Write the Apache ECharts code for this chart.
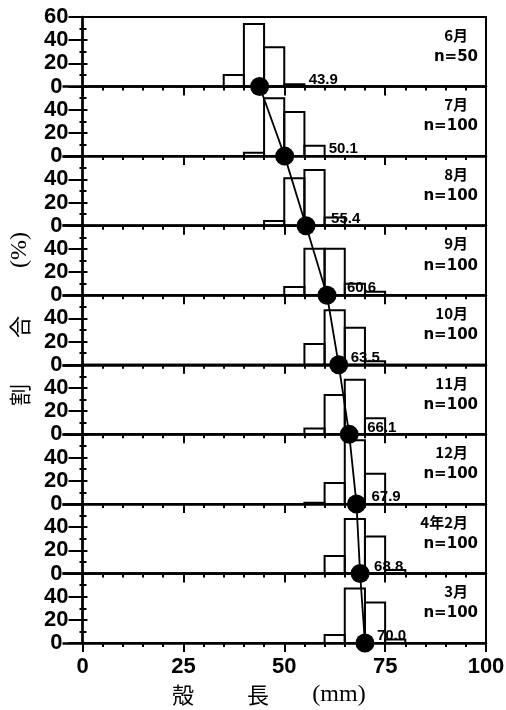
<!DOCTYPE html>
<html><head><meta charset="utf-8">
<script src="https://cdn.jsdelivr.net/npm/echarts@6/dist/echarts.min.js"></script>
<style>html,body{margin:0;padding:0;background:#fff}#c{width:506px;height:710px}</style>
</head><body><div id="c"></div>
<script>
// ---- data ----
const months = ['6月','7月','8月','9月','10月','11月','12月','4年2月','3月'];
const sampleN = [50,100,100,100,100,100,100,100,100];
const means = [43.9,50.1,55.4,60.6,63.5,66.1,67.9,68.8,70.0];
const binStarts = [35,40,45,50,55,60,65,70,75];
const binWidth = 5;
const pctJun = [10,54,34,2,0,0,0,0,0];
const pctJul = [0,3,50,38,9,0,0,0,0];
const pctAug = [0,0,4,41,48,7,0,0,0];
const pctSep = [0,0,0,7,40,40,10,3,0];
const pctOct = [0,0,0,0,18,47,32,3,0];
const pctNov = [0,0,0,0,5,34,47,14,0];
const pctDec = [0,0,0,0,1,18,55,26,0];
const pctFeb = [0,0,0,0,0,15,47,32,3];
const pctMar = [0,0,0,0,0,7,47,35,3];
const xTicks = [0,25,50,75,100];
const yTicks = [0,20,40,60];

const panels = [pctJun,pctJul,pctAug,pctSep,pctOct,pctNov,pctDec,pctFeb,pctMar];

// ---- layout ----
const L = 82.5, W = 403.5, T0 = 17, H = 69.56;
const labelDx = [49,44,25,20,12,18,15,14,12];
const numFont = "'Liberation Sans',sans-serif";
const yMin = yTicks[0], yMax = yTicks[yTicks.length - 1];

const grid = [], xAxis = [], yAxis = [], series = [], graphic = [];
panels.forEach((pct, i) => {
  const top = T0 + i * H;
  grid.push({left: L, width: W, top: top, height: H, show: true, borderColor: '#000', borderWidth: 2, outerBoundsMode: 'none'});
  xAxis.push({
    gridIndex: i, type: 'value', min: xTicks[0], max: xTicks[xTicks.length-1], interval: 25,
    axisLine: {show: true, onZero: false, lineStyle: {color: '#000', width: 2.5}},
    axisTick: {show: true, length: 9, lineStyle: {color: '#000', width: 2}},
    minorTick: {show: true, splitNumber: 5, length: 4, lineStyle: {color: '#000', width: 2}},
    splitLine: {show: false}, minorSplitLine: {show: false},
    axisLabel: {show: i === panels.length - 1, margin: 13, color: '#000', fontSize: 22, fontWeight: 'bold', fontFamily: numFont}
  });
  const yIdx = yAxis.length;
  // outside ticks + labels
  yAxis.push({
    gridIndex: i, type: 'value', position: 'left', min: yMin, max: yMax, interval: 20,
    axisLine: {show: true, onZero: false, lineStyle: {color: '#000', width: 2.5}},
    axisTick: {show: true, length: 14, lineStyle: {color: '#000', width: 2}},
    minorTick: {show: true, splitNumber: 2, length: 3, lineStyle: {color: '#000', width: 2}},
    splitLine: {show: false}, minorSplitLine: {show: false},
    axisLabel: {show: true, showMaxLabel: i === 0, margin: 14, color: '#000', fontSize: 22, fontWeight: 'bold', fontFamily: numFont,
      formatter: v => v === 0 ? '{z|0}' : String(v),
      rich: {z: {padding: [0, 6, 0, 0], color: '#000', fontSize: 22, fontWeight: 'bold', fontFamily: numFont}}}
  });
  // inside ticks
  yAxis.push({
    gridIndex: i, type: 'value', position: 'left', min: yMin, max: yMax, interval: 20,
    axisLine: {show: false},
    axisTick: {show: true, inside: true, length: 5, lineStyle: {color: '#000', width: 2}},
    minorTick: {show: true, splitNumber: 2, length: 4, lineStyle: {color: '#000', width: 2}},
    splitLine: {show: false}, minorSplitLine: {show: false}, axisLabel: {show: false}
  });
  // long ticks at panel baselines (0 of this panel, 60 = baseline of panel above)
  if (i > 0 || panels.length === 1) {
    yAxis.push({
      gridIndex: i, type: 'value', position: 'left', min: yMin, max: yMax, interval: yMax - yMin,
      axisLine: {show: false},
      axisTick: {show: true, length: 20, lineStyle: {color: '#000', width: 2.5}},
      splitLine: {show: false}, axisLabel: {show: false}
    });
  }
  const data = binStarts.map((s, k) => [s, s + binWidth, pct[k]]).filter(d => d[2] > 0);
  series.push({
    type: 'custom', xAxisIndex: i, yAxisIndex: yIdx, data: data, encode: {x: [0, 1], y: 2},
    renderItem: (params, api) => {
      const p0 = api.coord([api.value(0), api.value(2)]);
      const p1 = api.coord([api.value(1), 0]);
      return {type: 'rect', shape: {x: p0[0], y: p0[1], width: p1[0] - p0[0], height: p1[1] - p0[1]},
        style: {fill: 'none', stroke: '#000', lineWidth: 2}};
    }
  });
  graphic.push({type: 'text', x: 468, y: top + 18, z: 10,
    style: {text: months[i], align: 'right', verticalAlign: 'middle', font: "bold 15px 'Noto Sans CJK JP'", fill: '#000'}});
  graphic.push({type: 'text', x: 478, y: top + 40, z: 10,
    style: {text: 'n=' + sampleN[i], align: 'right', verticalAlign: 'middle', font: "bold 15px 'DejaVu Sans'", fill: '#000'}});
});

// overlay grid for mean line
const ov = panels.length;
grid.push({left: L, width: W, top: T0, height: H * panels.length, show: false, outerBoundsMode: 'none'});
xAxis.push({gridIndex: ov, type: 'value', min: 0, max: 100, show: false});
yAxis.push({gridIndex: ov, type: 'value', min: 0, max: panels.length, inverse: true, show: false});
series.push({
  type: 'line', xAxisIndex: ov, yAxisIndex: yAxis.length - 1, z: 20,
  data: means.map((m, i) => ({value: [m, i + 1], label: {offset: [labelDx[i], -7]}})),
  symbol: 'circle', symbolSize: 19, itemStyle: {color: '#000'},
  lineStyle: {color: '#000', width: 1.8},
  label: {show: true, position: 'inside', align: 'left', verticalAlign: 'middle', color: '#000',
    fontSize: 15, fontWeight: 'bold', fontFamily: "'Liberation Sans',sans-serif",
    formatter: p => p.value[0].toFixed(1)}
});

// axis titles
graphic.push({type: 'text', x: 183, y: 695, style: {text: '殻', align: 'center', verticalAlign: 'middle', font: "22px 'Noto Sans CJK JP'", fill: '#000'}});
graphic.push({type: 'text', x: 258, y: 695, style: {text: '長', align: 'center', verticalAlign: 'middle', font: "22px 'Noto Sans CJK JP'", fill: '#000'}});
graphic.push({type: 'text', x: 339, y: 695, style: {text: '(mm)', align: 'center', verticalAlign: 'middle', font: "24px 'Liberation Serif'", fill: '#000'}});
graphic.push({type: 'text', x: 20, y: 395, rotation: Math.PI / 2, style: {text: '割', align: 'center', verticalAlign: 'middle', font: "22px 'Noto Sans CJK JP'", fill: '#000'}});
graphic.push({type: 'text', x: 20, y: 327, rotation: Math.PI / 2, style: {text: '合', align: 'center', verticalAlign: 'middle', font: "22px 'Noto Sans CJK JP'", fill: '#000'}});
graphic.push({type: 'text', x: 20, y: 250, rotation: Math.PI / 2, style: {text: '(%)', align: 'center', verticalAlign: 'middle', font: "24px 'Liberation Serif'", fill: '#000'}});

const chart = echarts.init(document.getElementById('c'), null, {renderer: 'canvas'});
chart.setOption({animation: false, backgroundColor: '#fff', grid, xAxis, yAxis, series, graphic});
</script></body></html>
